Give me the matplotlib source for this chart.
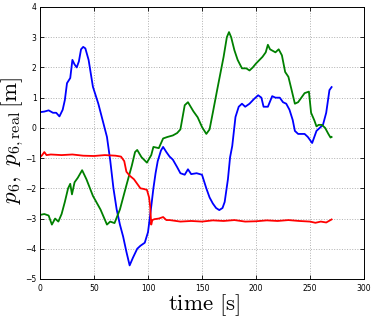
import matplotlib
matplotlib.use('Agg')
import matplotlib.pyplot as plt

plt.rcParams['mathtext.fontset'] = 'cm'
plt.rcParams['font.family'] = 'DejaVu Sans'

# blue: p6
t_blue = [0, 4, 8, 12, 15, 18, 21, 23, 25, 28, 30, 32, 34, 36, 38, 40, 42, 45, 49, 54, 58, 62, 65,
          68, 71, 74, 77, 80, 83, 86, 90, 93, 97, 100, 103, 105, 107, 109, 112, 114, 117, 120, 123,
          127, 130, 134, 137, 140, 145, 150, 154, 157, 160, 163, 166, 169, 171, 174, 176, 178, 181,
          184, 187, 190, 194, 198, 202, 205, 207, 211, 215, 218, 222, 225, 228, 231, 234, 236, 239,
          242, 245, 248, 250, 252, 254, 256, 259, 262, 265, 268, 270]
p_blue = [0.52, 0.54, 0.58, 0.5, 0.5, 0.38, 0.6, 0.92, 1.48, 1.65, 2.25, 2.1, 2.0, 2.2, 2.6, 2.68, 2.63,
          2.25, 1.36, 0.8, 0.25, -0.3, -1.07, -2.0, -2.7, -3.2, -3.6, -4.1, -4.55, -4.3, -4.0, -3.9,
          -3.8, -3.45, -2.6, -2.0, -1.5, -1.1, -0.75, -0.63, -0.8, -0.95, -1.05, -1.3, -1.5, -1.55,
          -1.37, -1.53, -1.5, -1.55, -2.0, -2.3, -2.5, -2.65, -2.72, -2.65, -2.45, -1.7, -0.97,
          -0.6, 0.36, 0.7, 0.8, 0.7, 0.8, 0.95, 1.08, 1.0, 0.7, 0.7, 1.05, 1.0, 1.0, 0.85, 0.8,
          0.6, 0.26, -0.1, -0.2, -0.2, -0.2, -0.3, -0.4, -0.5, -0.3, -0.1, 0.0, 0.1, 0.5, 1.25, 1.35]

# green: p6
t_green = [0, 4, 8, 11, 14, 17, 20, 23, 26, 28, 29.6, 32, 35, 39, 43, 49, 56, 62, 65, 69, 74, 80, 85,
           88, 90, 94, 99, 103, 105, 110, 114, 118, 123, 127, 130, 134, 137, 142, 146, 150, 154, 157,
           160, 164, 167, 170, 173, 175, 177, 180, 183, 187, 191, 194, 197, 200, 206, 209, 211, 213,
           218, 221, 224, 227, 230, 233, 236, 239, 242, 245, 249, 251, 254, 256, 258, 261, 264, 267,
           269, 270]
p_green = [-2.88, -2.85, -2.9, -3.2, -3.0, -3.1, -2.85, -2.45, -2.0, -1.85, -2.2, -1.8, -1.65, -1.4,
           -1.7, -2.25, -2.7, -3.2, -3.1, -3.15, -2.7, -1.9, -1.25, -0.8, -0.73, -0.97, -1.15, -0.9,
           -0.63, -0.67, -0.35, -0.3, -0.25, -0.17, -0.05, 0.75, 0.85, 0.55, 0.35, 0.03, -0.2, -0.05,
           0.5, 1.25, 1.8, 2.35, 3.0, 3.17, 3.0, 2.57, 2.25, 1.97, 1.97, 1.9, 2.0, 2.13, 2.35, 2.5,
           2.75, 2.6, 2.5, 2.6, 2.4, 1.85, 1.69, 1.25, 0.8, 0.85, 1.0, 1.15, 1.2, 0.5, 0.25, 0.05,
           0.1, 0.1, 0.0, -0.2, -0.32, -0.3]

# red: p6,real
t_red = [0, 2, 4, 6, 10, 20, 30, 40, 50, 60, 70, 75, 78, 80, 83, 87, 90, 93, 96, 99, 101, 102, 103,
         104, 106, 110, 114, 117, 120, 130, 140, 150, 160, 170, 180, 190, 200, 210, 220, 230, 240,
         250, 255, 260, 265, 270]
p_red = [-0.97, -0.9, -0.8, -0.9, -0.88, -0.9, -0.88, -0.92, -0.93, -0.9, -0.92, -0.95, -1.1, -1.45,
         -1.58, -1.7, -1.85, -2.0, -2.02, -2.05, -2.3, -2.6, -3.2, -3.05, -3.02, -3.0, -2.95, -3.05,
         -3.05, -3.1, -3.08, -3.1, -3.06, -3.08, -3.05, -3.1, -3.09, -3.06, -3.08, -3.05, -3.08,
         -3.1, -3.14, -3.1, -3.13, -3.03]

x_ticks = [0, 50, 100, 150, 200, 250, 300]
y_ticks = [-5, -4, -3, -2, -1, 0, 1, 2, 3, 4]

fig = plt.figure(figsize=(3.74, 3.17), dpi=100)
ax = fig.add_axes([40 / 374, 38 / 317, 324 / 374, 272 / 317])

ax.plot(t_blue, p_blue, color=(0, 0, 1), lw=1.3)
ax.plot(t_green, p_green, color=(0, 0.5, 0), lw=1.3)
ax.plot(t_red, p_red, color=(1, 0, 0), lw=1.3)

ax.set_xlim(0, 300)
ax.set_ylim(-5, 4)
ax.set_xticks(x_ticks)
ax.set_yticks(y_ticks)
ax.tick_params(direction='in', top=True, right=True, labelsize=5.5, length=3, width=0.6)
ax.tick_params(axis='y', pad=2.5)
ax.grid(True, linestyle=':', color='#b0b0b0', linewidth=0.7)
for s in ax.spines.values():
    s.set_linewidth(0.7)

ax.set_xlabel(r'$\mathrm{time\ [s]}$', fontsize=16.5)
ax.set_ylabel(r'$p_6,\ p_{6,\mathrm{real}}\,[\mathrm{m}]$', fontsize=16.5)
ax.xaxis.set_label_coords(0.506, -0.047)
ax.yaxis.set_label_coords(-0.043, 0.51)

fig.savefig('out.png', dpi=100)
plt.close()
